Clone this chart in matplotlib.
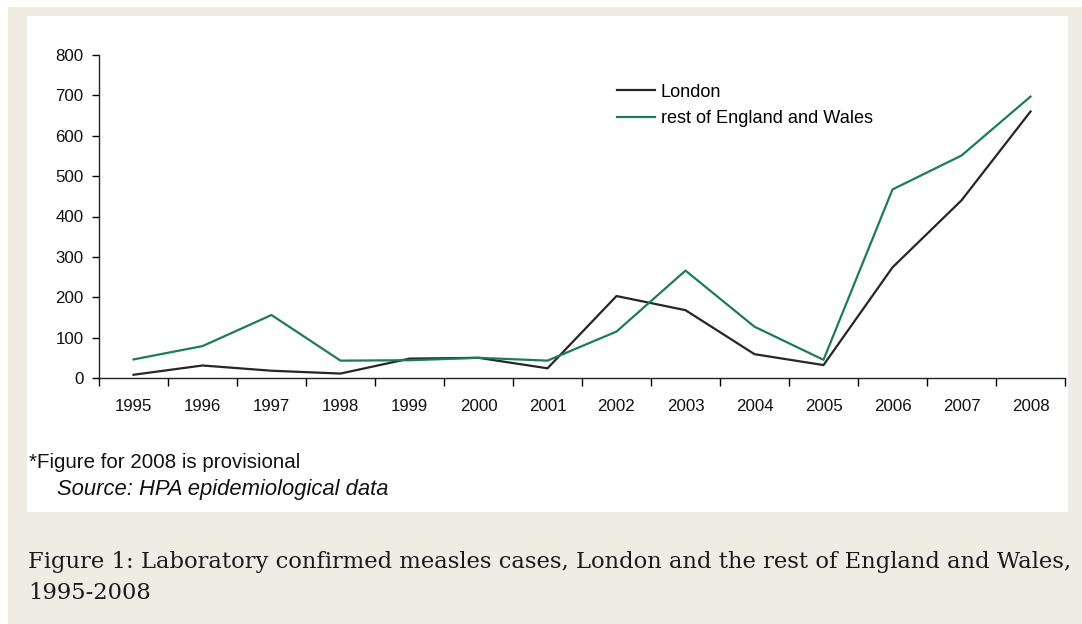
import matplotlib
matplotlib.use("Agg")
import matplotlib.pyplot as plt
from matplotlib.patches import Rectangle

years = ["1995", "1996", "1997", "1998", "1999", "2000", "2001",
         "2002", "2003", "2004", "2005", "2006", "2007", "2008"]
london = [8, 31, 18, 11, 48, 50, 24, 203, 168, 59, 32, 274, 440, 660]
rest_ew = [46, 79, 156, 43, 44, 50, 43, 115, 266, 127, 45, 467, 551, 697]
y_ticks = [0, 100, 200, 300, 400, 500, 600, 700, 800]

W, H = 1082, 624
fig = plt.figure(figsize=(W / 100, H / 100), dpi=100, facecolor="white")

# beige frame and white chart panel (pixel boxes -> figure fractions)
fig.patches.append(Rectangle((8 / W, 0), 1, (H - 7) / H, transform=fig.transFigure,
                             facecolor="#efece4", edgecolor="none", zorder=-2))
fig.patches.append(Rectangle((27 / W, 1 - 512 / H), 1041 / W, 496 / H, transform=fig.transFigure,
                             facecolor="white", edgecolor="none", zorder=-1))

ax = fig.add_axes([99 / W, 1 - 378 / H, 966 / W, 323 / H])
ax.set_zorder(2)
ax.patch.set_visible(False)

x = list(range(len(years)))
ax.plot(x, london, color="#262626", lw=1.6, label="London")
ax.plot(x, rest_ew, color="#1e7b58", lw=1.6, label="rest of England and Wales")

ax.set_xlim(-0.5, len(years) - 0.5)
ax.set_ylim(0, 800)
ax.set_yticks(y_ticks)
ax.set_yticklabels([str(v) for v in y_ticks])
ax.set_xticks([i - 0.5 for i in range(len(years) + 1)])
ax.set_xticklabels([])
ax.set_xticks(x, minor=True)
ax.set_xticklabels(years, minor=True)
ax.tick_params(axis="x", which="minor", length=0, pad=15)
ax.tick_params(axis="x", which="major", length=6, width=1, direction="out")
ax.tick_params(axis="y", length=5, width=1, direction="out", pad=6)

for lab in ax.get_xticklabels(minor=True) + ax.get_yticklabels():
    lab.set_fontfamily("Liberation Sans")
    lab.set_fontsize(12.2)
    lab.set_color("#111111")

for s in ["top", "right"]:
    ax.spines[s].set_visible(False)
for s in ["left", "bottom"]:
    ax.spines[s].set_color("#222222")
    ax.spines[s].set_linewidth(1)

leg = ax.legend(loc="upper left", bbox_to_anchor=(0.519, 0.962), frameon=False,
                prop={"family": "Liberation Sans", "size": 13.1},
                handlelength=2.1, handletextpad=0.33, labelspacing=0.52)

fig.text(29 / W, 1 - 462 / H, "*Figure for 2008 is provisional", fontfamily="Liberation Sans",
         fontsize=14.8, va="center", ha="left", color="#111111")
fig.text(57 / W, 1 - 489 / H, "Source: HPA epidemiological data", fontfamily="Liberation Sans",
         fontsize=15.8, style="italic", va="center", ha="left", color="#111111")

fig.text(28 / W, 1 - 568 / H,
         "Figure 1: Laboratory confirmed measles cases, London and the rest of England and Wales,",
         fontfamily="DejaVu Serif", fontsize=16.3, va="baseline", ha="left", color="#1a1a1a")
fig.text(28 / W, 1 - 599 / H, "1995-2008",
         fontfamily="DejaVu Serif", fontsize=16.3, va="baseline", ha="left", color="#1a1a1a")

fig.savefig("out.png", dpi=100, facecolor="white")
